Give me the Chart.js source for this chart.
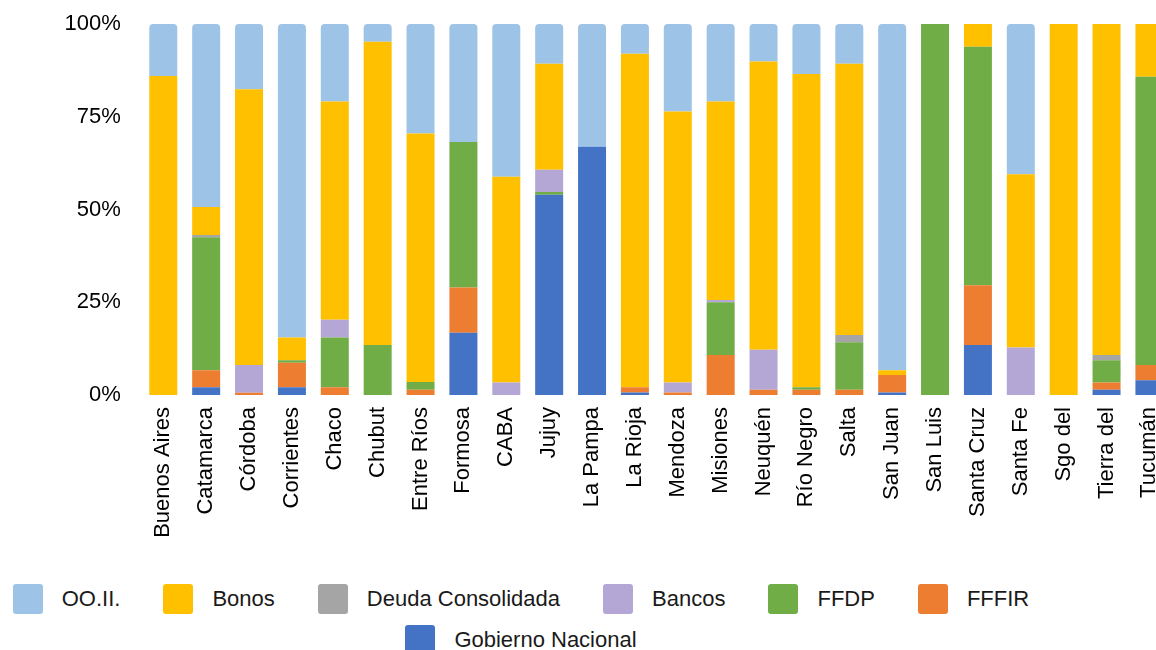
<!DOCTYPE html>
<html lang="es">
<head>
<meta charset="UTF-8">
<title>Composición del stock de deuda por provincia</title>
<script src="https://cdn.jsdelivr.net/npm/chart.js"></script>
<style>
  body { margin: 0; overflow: hidden; background: #fff; font-family: "Liberation Sans", Arial, sans-serif; }
  #wrap { position: relative; width: 1180px; height: 650px; }
  #legend {
    position: absolute; top: 584px; left: 0; width: 1042px;
    display: flex; flex-wrap: wrap; justify-content: center;
    column-gap: 43px; row-gap: 11px;
  }
  .item { display: flex; align-items: center; font-size: 22px; color: #1a1a1a; line-height: 30px; }
  .box { width: 30px; height: 30px; border-radius: 3px; margin-right: 19px; }
</style>
</head>
<body>
<div id="wrap">
  <canvas id="deuda" width="1180" height="560"></canvas>
  <div id="legend"></div>
</div>
<script>
const provincias = ['Buenos Aires', 'Catamarca', 'Córdoba', 'Corrientes', 'Chaco', 'Chubut', 'Entre Ríos',
  'Formosa', 'CABA', 'Jujuy', 'La Pampa', 'La Rioja', 'Mendoza', 'Misiones', 'Neuquén', 'Río Negro',
  'Salta', 'San Juan', 'San Luis', 'Santa Cruz', 'Santa Fe', 'Sgo del', 'Tierra del', 'Tucumán'];

// participación (%) de cada acreedor, una posición por provincia
const gobiernoNacional = [0, 2.1, 0, 2.1, 0, 0, 0, 16.8, 0, 54.0, 66.9, 0.7, 0, 0, 0, 0, 0, 0.7, 0, 13.5, 0, 0, 1.4, 4.0];
const fffir = [0, 4.6, 0.6, 6.6, 2.1, 0, 1.4, 12.2, 0, 0, 0, 1.4, 0.7, 10.8, 1.4, 1.4, 1.4, 4.7, 0, 16.1, 0, 0, 2.0, 4.1];
const ffdp = [0, 35.8, 0, 0.7, 13.4, 13.5, 2.1, 39.2, 0, 0.7, 0, 0, 0, 14.2, 0, 0.7, 12.8, 0, 100, 64.3, 0, 0, 6.0, 77.7];
const bancos = [0, 0, 7.5, 0, 4.8, 0, 0, 0, 3.4, 6.0, 0, 0, 2.7, 0.6, 10.8, 0, 0, 0, 0, 0, 12.8, 0, 0, 0];
const deudaConsolidada = [0, 0.6, 0, 0, 0, 0, 0, 0, 0, 0, 0, 0, 0, 0, 0, 0, 2.0, 0, 0, 0, 0, 0, 1.4, 0];
const bonos = [86, 7.6, 74.3, 6.1, 58.8, 81.7, 67.0, 0, 55.4, 28.6, 0, 89.9, 73.0, 53.5, 77.7, 84.4, 73.1, 1.3, 0, 6.1, 46.7, 100, 89.2, 14.2];
const ooii = [14, 49.3, 17.6, 84.5, 20.9, 4.8, 29.5, 31.8, 41.2, 10.7, 33.1, 8.0, 23.6, 20.9, 10.1, 13.5, 10.7, 93.3, 0, 0, 40.5, 0, 0, 0];

const yTicks = [0, 25, 50, 75, 100];

const FONT = '"Liberation Sans", Arial, sans-serif';

// el primer dataset queda abajo en la pila
const datasets = [
  { label: 'Gobierno Nacional', data: gobiernoNacional, backgroundColor: '#4472C4' },
  { label: 'FFFIR', data: fffir, backgroundColor: '#ED7D31' },
  { label: 'FFDP', data: ffdp, backgroundColor: '#70AD47' },
  { label: 'Bancos', data: bancos, backgroundColor: '#B4A7D6' },
  { label: 'Deuda Consolidada', data: deudaConsolidada, backgroundColor: '#A5A5A5' },
  { label: 'Bonos', data: bonos, backgroundColor: '#FFC000' },
  { label: 'OO.II.', data: ooii, backgroundColor: '#9DC3E6', borderRadius: { topLeft: 4, topRight: 4 } }
];

const chart = new Chart(document.getElementById('deuda'), {
  type: 'bar',
  data: { labels: provincias, datasets: datasets },
  options: {
    responsive: false,
    animation: false,
    layout: { padding: { top: 24, right: 8.5, left: 0, bottom: 0 } },
    datasets: { bar: { categoryPercentage: 1, barPercentage: 0.653, borderWidth: 0 } },
    plugins: { legend: { display: false }, tooltip: { enabled: false } },
    scales: {
      x: {
        stacked: true,
        grid: { display: false },
        border: { display: false },
        ticks: {
          minRotation: 90, maxRotation: 90, autoSkip: false, padding: 4,
          color: '#000', font: { family: FONT, size: 22 }
        },
        afterFit: s => { s.height = 165; }
      },
      y: {
        stacked: true,
        min: 0, max: 100,
        grid: { display: false },
        border: { display: false },
        afterBuildTicks: s => { s.ticks = yTicks.map(v => ({ value: v })); },
        ticks: {
          padding: 13, color: '#000', font: { family: FONT, size: 22 },
          callback: v => v + '%'
        },
        // el área de barras va de y=24 a y=395, sin margen extra por las etiquetas
        afterFit: s => { s.width = 141.85; s.paddingTop = 0; s.paddingBottom = 0; }
      }
    }
  }
});

// leyenda en el mismo orden visual que la pila (de arriba hacia abajo)
const legendEl = document.getElementById('legend');
chart.data.datasets.slice().reverse().forEach(ds => {
  const item = document.createElement('div');
  item.className = 'item';
  const box = document.createElement('span');
  box.className = 'box';
  box.style.background = ds.backgroundColor;
  item.appendChild(box);
  item.appendChild(document.createTextNode(ds.label));
  legendEl.appendChild(item);
});
</script>
</body>
</html>
